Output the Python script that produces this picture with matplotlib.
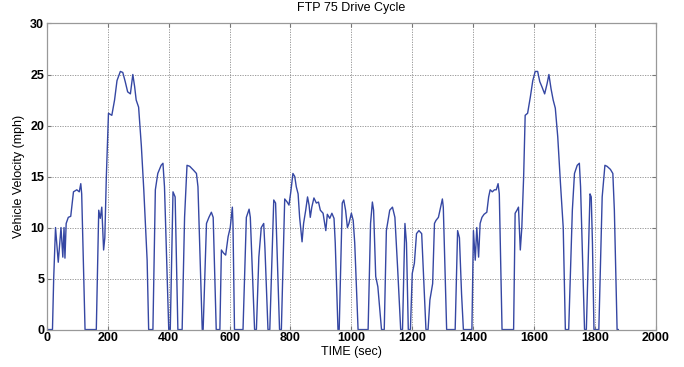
import numpy as np
import matplotlib.pyplot as plt

plt.rcParams['font.family'] = ['Liberation Sans', 'DejaVu Sans']

# waypoints (time in s, speed in mph)
time_s = [0, 18, 22, 28, 37, 46, 52, 56, 59, 63, 70, 78, 87, 98, 106, 111, 114, 125,
          162, 170, 175, 180, 186, 190, 195, 202, 213, 222, 230, 241, 249, 257, 265, 274,
          282, 288, 293, 301, 310, 318, 329, 334,
          348, 356, 364, 375, 381, 386, 400,
          405, 414, 421, 430,
          444, 452, 460, 469, 482, 491, 496, 510,
          513, 524, 532, 540, 546, 556,
          568, 573, 580, 587, 595, 602, 609, 611, 616,
          644, 655, 664, 668, 682,
          688, 696, 704, 712, 716, 726,
          732, 745, 751, 764,
          770, 781, 789, 795, 801, 808, 814, 819, 825, 830, 838, 843, 850, 856, 861, 865,
          870, 877, 885, 892, 898, 907, 916, 921, 929, 936, 943, 947, 956,
          960, 970, 975, 981, 987, 992, 1000, 1006, 1011, 1022,
          1055, 1063, 1069, 1073, 1080, 1087, 1099,
          1108, 1115, 1126, 1135, 1143, 1152, 1162,
          1168, 1176, 1181, 1187,
          1194, 1200, 1207, 1214, 1222, 1231, 1245,
          1252, 1258, 1267, 1273, 1278, 1286, 1291, 1299, 1302, 1313,
          1341, 1349, 1355, 1362, 1368,
          1396, 1401, 1407, 1412, 1418, 1423, 1429, 1436, 1445, 1451, 1456, 1463, 1470,
          1476, 1482, 1486, 1495,
          1533, 1538, 1544, 1549, 1555, 1560, 1566, 1571, 1579, 1588, 1596, 1604, 1612,
          1619, 1626, 1635, 1643, 1649, 1656, 1663, 1670, 1678, 1687, 1696, 1703,
          1714, 1726, 1733, 1742, 1749, 1753, 1766,
          1772, 1784, 1788, 1792, 1797,
          1813, 1824, 1833, 1840, 1851, 1859, 1864, 1873, 1877]
speed_mph = [0, 0, 5, 10, 6.6, 10, 7.1, 10, 7, 10.4, 11, 11.1, 13.5, 13.7, 13.5, 14.3, 13.3, 0,
             0, 11.7, 10.9, 12, 7.8, 9, 15, 21.2, 21, 22.5, 24.4, 25.3, 25.2, 24.3, 23.3, 23.1,
             25, 23.8, 22.5, 21.8, 18, 13.7, 6.8, 0,
             0, 13.7, 15.3, 16.1, 16.3, 14, 0,
             0, 13.5, 13, 0,
             0, 11, 16.1, 16, 15.6, 15.3, 14, 0,
             0, 10.4, 11, 11.5, 11, 0,
             0, 7.8, 7.5, 7.3, 9.1, 10, 12, 10.4, 0,
             0, 11, 11.8, 11, 0,
             0, 7.1, 10, 10.4, 8, 0,
             0, 12.7, 12.4, 0,
             0, 12.8, 12.5, 12.2, 13.5, 15.3, 15, 14, 13.3, 11, 8.6, 10.4, 11.7, 13, 12.2, 11,
             12, 12.9, 12.4, 12.5, 11.7, 11.4, 9.7, 11.3, 10.9, 11.4, 10.9, 8.5, 0,
             0, 12.4, 12.7, 11.7, 10, 10.4, 11.4, 10.7, 8.5, 0,
             0, 10.4, 12.5, 11.7, 5.2, 4.2, 0,
             0, 9.7, 11.7, 12, 11, 6, 0,
             0, 10.4, 8.5, 0,
             0, 5.5, 6.5, 9.4, 9.7, 9.4, 0,
             0, 2.9, 4.5, 10.4, 10.7, 11, 11.7, 12.8, 12, 0,
             0, 9.7, 9, 3.5, 0,
             0, 9.7, 6.8, 10, 7.1, 10.4, 11, 11.3, 11.5, 13, 13.7, 13.5, 13.7,
             13.7, 14.3, 13.3, 0,
             0, 11.4, 11.7, 12, 7.8, 10, 15, 21, 21.2, 22.8, 24.4, 25.3, 25.3,
             24.3, 23.8, 23.1, 24.1, 25, 23.6, 22.5, 21.7, 18.9, 14.3, 10, 0,
             0, 11.7, 15.3, 16.1, 16.3, 14, 0,
             0, 13.3, 13, 8.5, 0,
             0, 13, 16.1, 16, 15.7, 15.3, 11.7, 0, 0]

fig = plt.figure(figsize=(6.84, 3.67), dpi=100)
ax = fig.add_axes([0.0687, 0.102, 0.890, 0.834])
ax.plot(time_s, speed_mph, color='#3547a3', linewidth=1.0)

ax.set_xlim(0, 2000)
ax.set_ylim(0, 30)
ax.set_xticks(np.arange(0, 2001, 200))
ax.set_yticks(np.arange(0, 31, 5))
ax.grid(True, linestyle=(0, (1.5, 1.5)), color='#8c8c8c', linewidth=0.6)
ax.tick_params(direction='in', top=True, right=True, length=3, labelsize=9, pad=2,
               color='#777777')
for lab in ax.get_xticklabels() + ax.get_yticklabels():
    lab.set_fontweight('bold')
for s in ax.spines.values():
    s.set_color('#999999')
    s.set_linewidth(0.9)

ax.set_title('FTP 75 Drive Cycle', fontsize=9, pad=9)
ax.set_xlabel('TIME (sec)', fontsize=9, labelpad=1)
ax.set_ylabel('Vehicle Velocity (mph)', fontsize=9, labelpad=4)

fig.savefig('out.png', dpi=100)
